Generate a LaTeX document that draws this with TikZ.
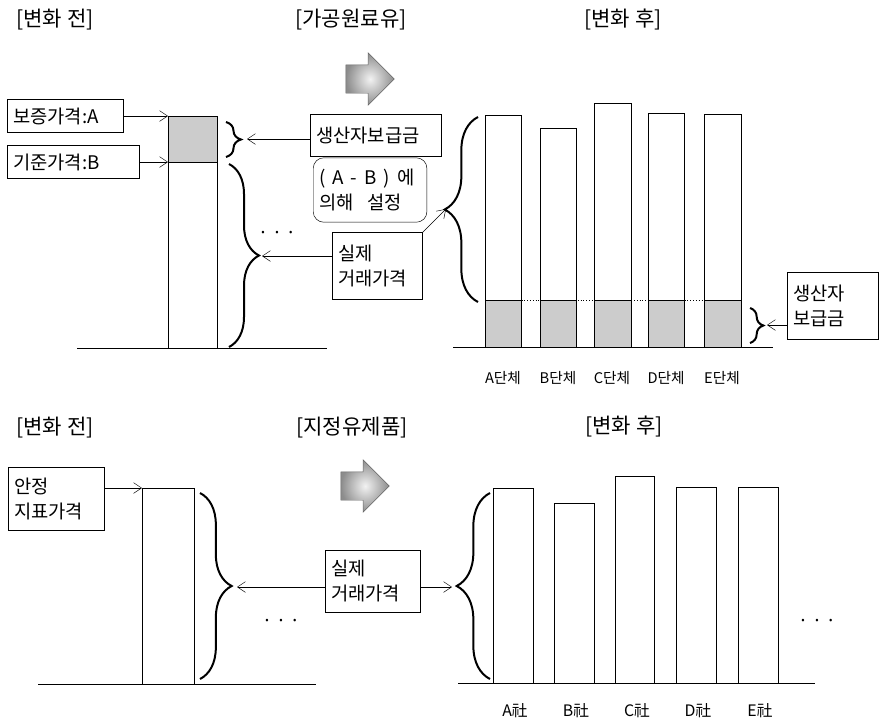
\documentclass[tikz,border=0pt]{standalone}
\usepackage{fontspec}
\setmainfont{Noto Sans CJK KR}
\usetikzlibrary{arrows.meta,shapes.arrows,decorations.pathreplacing}

\tikzset{
  >={Straight Barb[length=2.4mm,width=3.2mm]},
  ttl/.style={font=\fontsize{18}{20}\selectfont},
  lbl/.style={draw, anchor=west, inner xsep=5pt, inner ysep=3pt, align=left,
    font=\fontsize{16}{21}\selectfont, text width=#1},
  co/.style={font=\fontsize{12.5}{14}\selectfont},
  ellip/.style={font=\fontsize{8.5}{8.5}\selectfont},
  shd/.style={draw, fill=black!20},
  brc/.style={decorate, line width=1.7pt, decoration={brace, amplitude=#1}},
  bigarrow/.style={single arrow, draw=black!60, inner color=black!5, outer color=black!45,
    minimum height=1.45cm, inner xsep=0pt, inner ysep=0.42cm, single arrow head extend=0.36cm}
}

\begin{document}
\begin{tikzpicture}[x=0.03cm, y=-0.03cm]
      \useasboundingbox (0,0) rectangle (879,720);

      % upper half: processed raw milk
      \node[ttl] (t1) at (55,20) {[변화 전]};
      \node[ttl] (t2) at (351,20) {[가공원료유]};
      \node[ttl] (t3) at (623,20) {[변화 후]};
      \node[bigarrow] (ar1) at (363,79) {};

      \draw (77,348) -- (327,348);
      \draw[shd] (168,116) rectangle (217,162);
      \draw (168,116) rectangle (217,348);
      \coordinate (pA) at (168,116);
      \coordinate (pB) at (168,162);

      \node[lbl=89pt, minimum height=28pt] (gA) at (7,116) {보증가격:A};
      \node[lbl=103pt, minimum height=28pt] (gB) at (7,162) {기준가격:B};
      \node[lbl=102pt, minimum height=36pt] (sub) at (310,135) {생산자보급금};
      \node[lbl=87pt, minimum height=55pt, rounded corners=9pt] (rule) at (313,190)
        {(\hspace{6pt}A\hspace{6pt}-\hspace{6pt}B\hspace{6pt})\hspace{6pt}에\\의해\hspace{12pt}설정};
      \node[lbl=67pt, minimum height=57pt] (real) at (332,266) {실제\\거래가격};
      \node[lbl=68pt, minimum height=57pt] (sub2) at (787,306) {생산자\\보급금};
      \node[ellip] (d1) at (277,233) {•\hspace{9pt}•\hspace{9pt}•};

      \coordinate (tS1) at (247,139);
      \coordinate (tL1) at (262,256);
      \coordinate (tR1) at (446,209);
      \coordinate (tS2) at (767,325);

      \draw[brc=0.45cm] (226,122) -- (226,157);
      \draw[brc=0.9cm] (229,164) -- (229,347);
      \draw[brc=1cm] (478,302) -- (478,117);
      \draw[brc=0.4cm] (750,308) -- (750,343);

      \draw[->] (gA.east |- pA) -- (pA);
      \draw[->] (gB.east |- pB) -- (pB);
      \draw[->] (sub.west |- tS1) -- (tS1);
      \draw[->] (real.west |- tL1) -- (tL1);
      \draw[->] (real.north east) -- (tR1);
      \draw[->] (sub2.west |- tS2) -- (tS2);

      \draw (453,347) -- (773,347);
      \draw[dotted] (485,300) -- (741,300);
      \draw[shd] (485,300) rectangle (521,347); \draw (485,347) rectangle (521,115);
      \draw[shd] (540,300) rectangle (576,347); \draw (540,347) rectangle (576,128);
      \draw[shd] (594,300) rectangle (631,347); \draw (594,347) rectangle (631,103);
      \draw[shd] (648,300) rectangle (684,347); \draw (648,347) rectangle (684,113);
      \draw[shd] (704,300) rectangle (741,347); \draw (704,347) rectangle (741,114);
      \node[co] (la) at (503,378) {A단체};
      \node[co] (lb) at (558,378) {B단체};
      \node[co] (lc) at (612,378) {C단체};
      \node[co] (ld) at (666,378) {D단체};
      \node[co] (le) at (722,378) {E단체};

      % lower half: designated dairy products
      \node[ttl] (t4) at (55,428) {[변화 전]};
      \node[ttl] (t5) at (352,428) {[지정유제품]};
      \node[ttl] (t6) at (624,427) {[변화 후]};
      \node[bigarrow] (ar2) at (358,486) {};

      \draw (38,684) -- (316,684);
      \draw (142,488) rectangle (194,684);
      \coordinate (pS) at (142,488);
      \node[lbl=72pt, minimum height=54pt] (stab) at (8,499) {안정\\지표가격};
      \node[lbl=71pt, minimum height=53pt] (real2) at (325,581) {실제\\거래가격};
      \node[ellip] (d2) at (281,621) {•\hspace{9pt}•\hspace{9pt}•};
      \node[ellip] (d3) at (817,621) {•\hspace{9pt}•\hspace{9pt}•};

      \coordinate (tL2) at (237,587);
      \coordinate (tR2) at (452,587);
      \draw[brc=0.95cm] (200,493) -- (200,679);
      \draw[brc=1cm] (490,679) -- (490,493);

      \draw[->] (stab.east |- pS) -- (pS);
      \draw[->] (real2.west |- tL2) -- (tL2);
      \draw[->] (real2.east |- tR2) -- (tR2);

      \draw (458,683) -- (815,683);
      \draw (493,683) rectangle (533,488);
      \draw (554,683) rectangle (594,503);
      \draw (615,683) rectangle (654,476);
      \draw (676,683) rectangle (716,487);
      \draw (738,683) rectangle (778,487);
      \node[co, font=\fontsize{13.5}{15}\selectfont] (ca) at (515,711) {A社};
      \node[co, font=\fontsize{13.5}{15}\selectfont] (cb) at (576,711) {B社};
      \node[co, font=\fontsize{13.5}{15}\selectfont] (cc) at (637,711) {C社};
      \node[co, font=\fontsize{13.5}{15}\selectfont] (cd) at (698,711) {D社};
      \node[co, font=\fontsize{13.5}{15}\selectfont] (ce) at (760,711) {E社};
    \end{tikzpicture}
\end{document}
